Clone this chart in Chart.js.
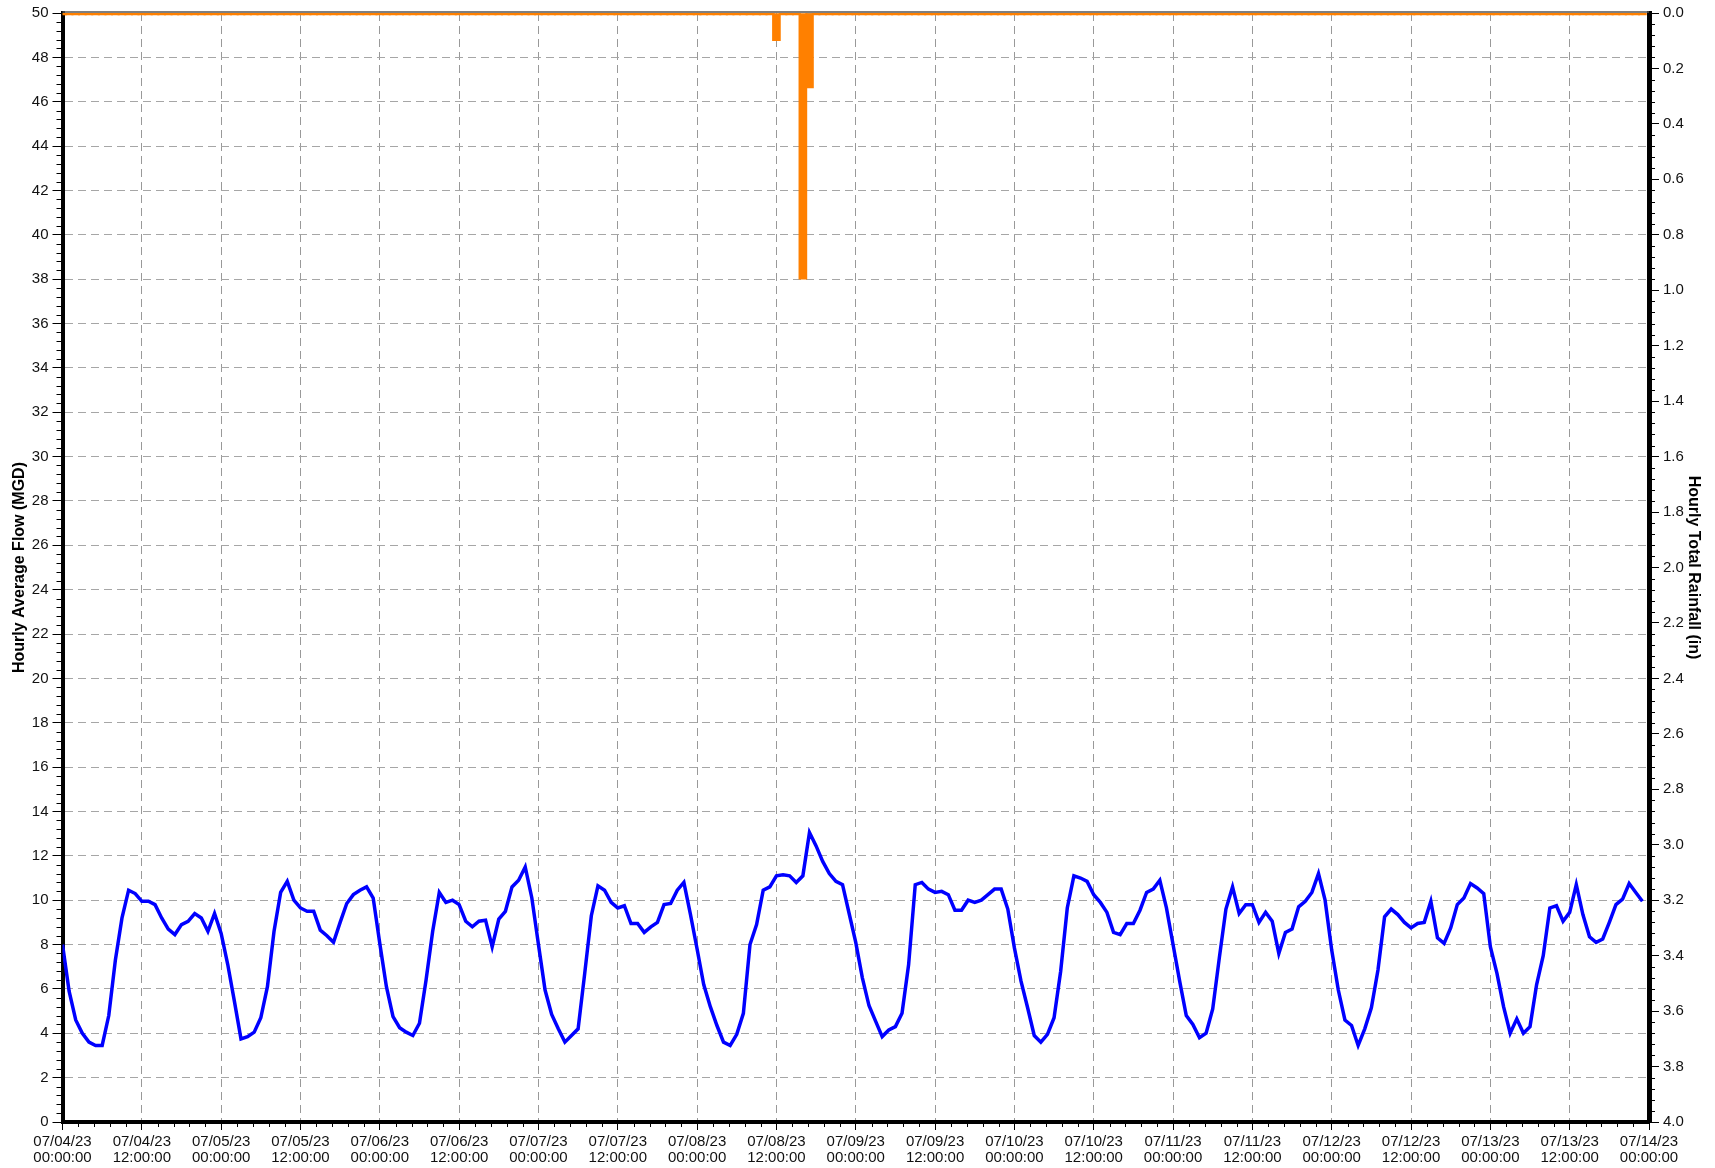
<!DOCTYPE html>
<html>
<head>
<meta charset="utf-8">
<script src="https://cdn.jsdelivr.net/npm/chart.js@4.4.1/dist/chart.umd.min.js"></script>
<style>
  html, body { margin: 0; padding: 0; background: #fff; }
  #wrap { width: 1715px; height: 1168px; }
</style>
</head>
<body>
<div id="wrap"><canvas id="flowChart" width="1715" height="1168"></canvas></div>
<script>
// x axis tick labels (every 12 hours from 07/04/23 00:00)
const dayLabels = ['07/04/23', '07/05/23', '07/06/23', '07/07/23', '07/08/23', '07/09/23',
                   '07/10/23', '07/11/23', '07/12/23', '07/13/23', '07/14/23'];
const timeLabels = ['00:00:00', '12:00:00'];

// hourly average flow (MGD), one value per hour starting 07/04/23 00:00
const flowValues = [
  8.0, 5.9, 4.6, 4.0, 3.6, 3.45, 3.45, 4.8, 7.3, 9.2, 10.45, 10.3,
  9.95, 9.95, 9.8, 9.2, 8.7, 8.45, 8.9, 9.05, 9.4, 9.2, 8.6, 9.4,
  8.5, 7.1, 5.45, 3.75, 3.85, 4.05, 4.7, 6.1, 8.6, 10.35, 10.85, 10.0,
  9.65, 9.5, 9.5, 8.65, 8.4, 8.1, 9.0, 9.85, 10.25, 10.45, 10.6, 10.1,
  8.05, 6.1, 4.75, 4.25, 4.05, 3.9, 4.45, 6.4, 8.6, 10.35, 9.9, 10.0,
  9.8, 9.05, 8.8, 9.05, 9.1, 7.9, 9.15, 9.5, 10.6, 10.9, 11.5, 10.1,
  8.0, 5.95, 4.85, 4.2, 3.6, 3.9, 4.2, 6.7, 9.3, 10.65, 10.45, 9.9,
  9.65, 9.75, 8.95, 8.95, 8.55, 8.8, 9.0, 9.8, 9.85, 10.45, 10.8, 9.35,
  7.8, 6.2, 5.2, 4.35, 3.6, 3.45, 3.95, 4.9, 8.0, 8.9, 10.45, 10.6,
  11.1, 11.15, 11.1, 10.8, 11.1, 13.05, 12.45, 11.75, 11.2, 10.85, 10.7, 9.4,
  8.1, 6.5, 5.25, 4.55, 3.85, 4.15, 4.3, 4.9, 7.1, 10.7, 10.8, 10.5,
  10.35, 10.4, 10.25, 9.55, 9.55, 10.0, 9.9, 10.0, 10.25, 10.5, 10.5, 9.6,
  7.85, 6.35, 5.15, 3.9, 3.6, 3.95, 4.7, 6.8, 9.65, 11.1, 11.0, 10.85,
  10.25, 9.9, 9.45, 8.55, 8.45, 8.95, 8.95, 9.55, 10.35, 10.5, 10.9, 9.65,
  8.0, 6.35, 4.8, 4.4, 3.8, 4.0, 5.1, 7.4, 9.6, 10.6, 9.4, 9.8,
  9.8, 9.0, 9.45, 9.05, 7.6, 8.55, 8.7, 9.7, 9.95, 10.35, 11.2, 10.0,
  7.75, 5.95, 4.6, 4.35, 3.45, 4.2, 5.15, 6.85, 9.25, 9.6, 9.35, 9.0,
  8.75, 8.95, 9.0, 9.95, 8.3, 8.05, 8.75, 9.8, 10.1, 10.75, 10.55, 10.3,
  7.9, 6.7, 5.2, 4.0, 4.65, 4.0, 4.3, 6.2, 7.5, 9.65, 9.75, 9.05,
  9.45, 10.7, 9.35, 8.35, 8.1, 8.25, 9.0, 9.8, 10.05, 10.75, 10.35, 9.95
];

// hourly total rainfall (in): only the hours with rain, all others are zero
const rainHours = [108, 112, 113];
const rainInches = [0.10, 0.96, 0.27];

const FONT = '"Liberation Sans", Arial, Helvetica, sans-serif';

const flowPoints = flowValues.map((v, h) => ({ x: h, y: v }));
const rainPoints = flowValues.map((v, h) => {
  const k = rainHours.indexOf(h);
  return { x: h, y: k >= 0 ? rainInches[k] : 0 };
});

// small ticks between the labelled ones, plus the dark top edge of the plot
const minorTicks = {
  id: 'minorTicks',
  afterDraw(chart) {
    const { ctx, chartArea } = chart;
    const sy = chart.scales.y, sr = chart.scales.yRain, sx = chart.scales.x;
    ctx.save();
    ctx.strokeStyle = '#000';
    ctx.lineWidth = 1;
    ctx.beginPath();
    for (let i = 0; i <= 125; i++) {
      if (i % 5 === 0) continue;
      const y = Math.round(sy.getPixelForValue(i * 0.4)) + 0.5;
      ctx.moveTo(chartArea.left - 6, y);
      ctx.lineTo(chartArea.left, y);
    }
    for (let i = 0; i <= 100; i++) {
      if (i % 5 === 0) continue;
      const y = Math.round(sr.getPixelForValue(i * 0.04)) + 0.5;
      ctx.moveTo(chartArea.right, y);
      ctx.lineTo(chartArea.right + 6, y);
    }
    for (let i = 0; i <= 100; i++) {
      if (i % 5 === 0) continue;
      const x = Math.round(sx.getPixelForValue(i * 2.4)) + 0.5;
      ctx.moveTo(x, chartArea.bottom);
      ctx.lineTo(x, chartArea.bottom + 5);
    }
    ctx.stroke();

    ctx.strokeStyle = '#555';
    ctx.lineWidth = 1.5;
    ctx.beginPath();
    ctx.moveTo(chartArea.left, chartArea.top - 1);
    ctx.lineTo(chartArea.right, chartArea.top - 1);
    ctx.stroke();
    ctx.restore();
  }
};

const gridDash = [8, 5];
const tickFont = { family: FONT, size: 15, lineHeight: 1.05 };

new Chart(document.getElementById('flowChart'), {
  type: 'line',
  data: {
    datasets: [
      {
        type: 'line',
        label: 'Hourly Average Flow (MGD)',
        data: flowPoints,
        yAxisID: 'y',
        borderColor: '#0000ff',
        borderWidth: 3.5,
        pointRadius: 0,
        tension: 0,
        fill: false,
        order: 0
      },
      {
        type: 'bar',
        label: 'Hourly Total Rainfall (in)',
        data: rainPoints,
        yAxisID: 'yRain',
        backgroundColor: '#ff8000',
        borderWidth: 0,
        barThickness: 8,
        minBarLength: 4,
        clip: 0,
        order: 1
      }
    ]
  },
  options: {
    responsive: false,
    animation: false,
    layout: { padding: { top: 10.5, left: 0, right: 0, bottom: 0 } },
    plugins: {
      legend: { display: false },
      tooltip: { enabled: false }
    },
    scales: {
      x: {
        type: 'linear',
        position: 'bottom',
        min: 0,
        max: 240,
        offset: false,
        afterFit(s) { s.height = 46; },
        ticks: {
          stepSize: 12,
          autoSkip: false,
          maxRotation: 0,
          padding: 4,
          color: '#111',
          font: tickFont,
          callback(v) {
            const k = Math.round(v / 12);
            return [dayLabels[Math.floor(k / 2)], timeLabels[k % 2]];
          }
        },
        grid: { color: '#999', lineWidth: 1, tickLength: 8, tickColor: '#000', offset: false },
        border: { display: true, color: '#000', width: 4, dash: gridDash }
      },
      y: {
        type: 'linear',
        position: 'left',
        min: 0,
        max: 50,
        afterFit(s) { s.width = 62.5; },
        ticks: {
          stepSize: 2,
          autoSkip: false,
          padding: 4,
          color: '#111',
          font: { family: FONT, size: 15 },
          callback: v => String(v)
        },
        grid: { color: '#a6a6a6', lineWidth: 1, tickLength: 10, tickColor: '#000' },
        border: { display: true, color: '#000', width: 4, dash: gridDash },
        title: {
          display: true,
          text: 'Hourly Average Flow (MGD)',
          color: '#000',
          font: { family: FONT, size: 16, weight: 'bold' },
          padding: { top: 10.4, bottom: 0 }
        }
      },
      yRain: {
        type: 'linear',
        position: 'right',
        min: 0,
        max: 4,
        reverse: true,
        afterFit(s) { s.width = 66; },
        ticks: {
          stepSize: 0.2,
          autoSkip: false,
          padding: 4,
          color: '#111',
          font: { family: FONT, size: 15 },
          callback: v => v.toFixed(1)
        },
        grid: { drawOnChartArea: false, tickLength: 10, tickColor: '#000' },
        border: { display: true, color: '#000', width: 5 },
        title: {
          display: true,
          text: 'Hourly Total Rainfall (in)',
          color: '#000',
          font: { family: FONT, size: 16, weight: 'bold' },
          padding: { top: 12.4, bottom: 0 }
        }
      }
    }
  },
  plugins: [minorTicks]
});
</script>
</body>
</html>
